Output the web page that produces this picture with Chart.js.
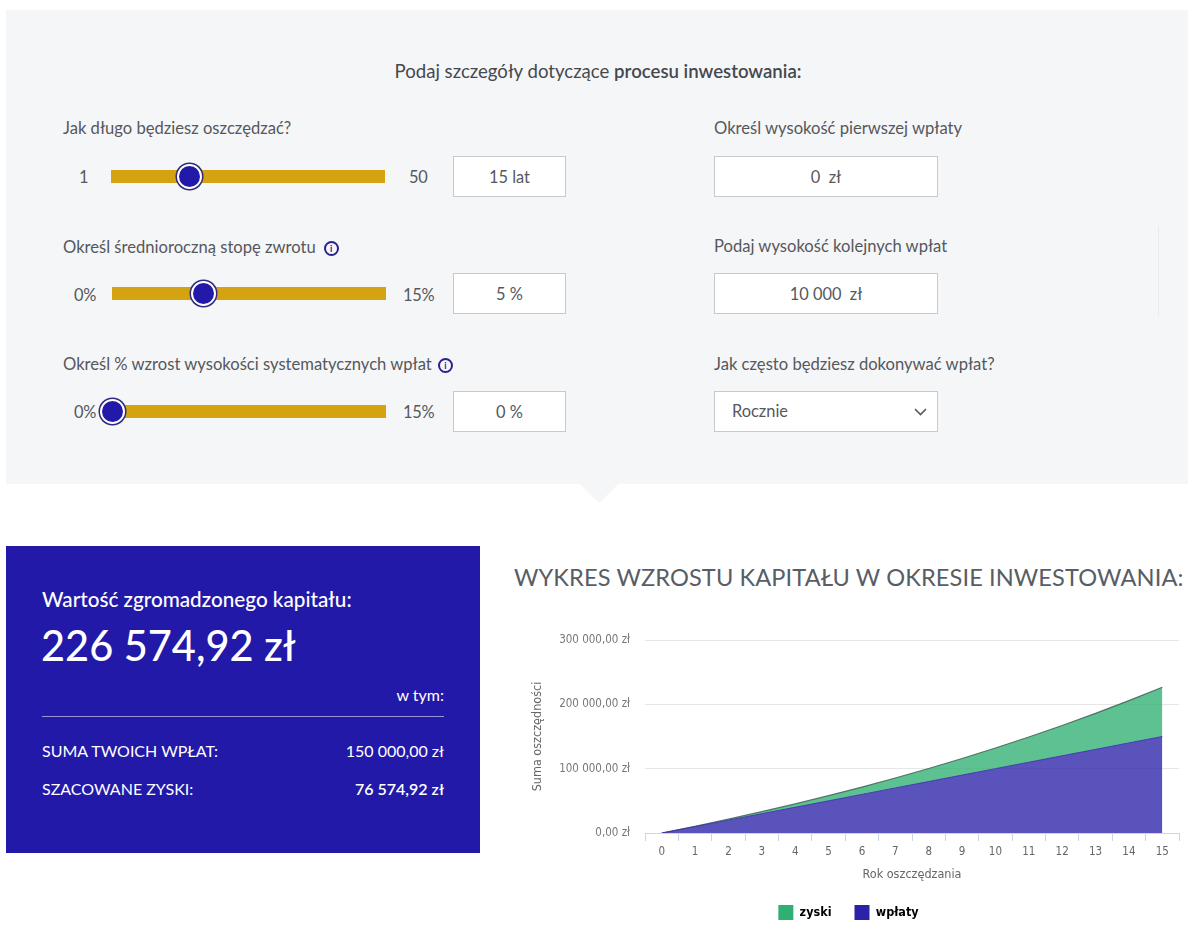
<!DOCTYPE html>
<html lang="pl">
<head>
<meta charset="utf-8">
<title>Kalkulator inwestycyjny</title>
<script src="https://cdn.jsdelivr.net/npm/chart.js@4.4.1/dist/chart.umd.min.js"></script>
<style>
  html, body { margin: 0; padding: 0; background: #fff; }
  body { width: 1200px; height: 937px; position: relative; overflow: hidden; font-family: Lato, "Open Sans", sans-serif; color: #4a4d52; }
  .abs { position: absolute; }
  .panel { left: 6px; top: 10px; width: 1182px; height: 474px; background: #f5f6f8; }
  .notch { left: 580px; top: 484px; width: 0; height: 0; border-left: 19px solid transparent; border-right: 19px solid transparent; border-top: 19px solid #f5f6f8; }
  .heading { left: 0; width: 1196px; top: 60px; text-align: center; font-size: 18.6px; color: #45484d; }
  .heading b { font-weight: 600; }
  .label { font-size: 16.6px; color: #55585d; white-space: nowrap; }
  .num { font-size: 16.4px; color: #55585d; letter-spacing: -0.3px; }
  .track { height: 13px; background: #d5a212; }
  .knob { width: 21px; height: 21px; border-radius: 50%; background: #2219a8; border: 2px solid #fff; box-shadow: 0 0 0 1.5px #2f2b7e; }
  .box { background: #fff; border: 1px solid #c9c9cb; box-sizing: border-box; font-size: 16.4px; color: #55585d; text-align: center; line-height: 39px; }
  .info { display: inline-block; vertical-align: 1px; margin-left: 8px; width: 11px; height: 11px; border: 2px solid #2a2290; border-radius: 50%; font-size: 9px; font-weight: 700; color: #2a2290; text-align: center; line-height: 11px; }
  .result { left: 6px; top: 546px; width: 474px; height: 307px; background: #2219a8; color: #fff; }
  .result div { position: absolute; white-space: nowrap; }
  .title { left: 514px; top: 563px; font-size: 23.6px; color: #585d66; white-space: nowrap; letter-spacing: 0.1px; }
  #wrap { left: 510px; top: 612px; width: 680px; height: 318px; }
</style>
</head>
<body>
<div class="abs panel"></div>
<div class="abs notch"></div>
<div class="abs heading">Podaj szczegóły dotyczące <b>procesu inwestowania:</b></div>

<!-- lewa kolumna -->
<div class="abs label" style="left:63px;top:118px">Jak długo będziesz oszczędzać?</div>
<div class="abs num" style="left:79px;top:167px">1</div>
<div class="abs track" style="left:111px;top:170px;width:274px"></div>
<div class="abs knob" style="left:177px;top:164px"></div>
<div class="abs num" style="left:409px;top:167px">50</div>
<div class="abs box" style="left:453px;top:156px;width:113px;height:41px">15 lat</div>

<div class="abs label" style="left:63px;top:237px">Określ średnioroczną stopę zwrotu<span class="info">i</span></div>
<div class="abs num" style="left:74px;top:285px">0%</div>
<div class="abs track" style="left:112px;top:287px;width:274px"></div>
<div class="abs knob" style="left:191px;top:281px"></div>
<div class="abs num" style="left:403px;top:285px">15%</div>
<div class="abs box" style="left:453px;top:273px;width:113px;height:41px">5 %</div>

<div class="abs label" style="left:63px;top:354px">Określ % wzrost wysokości systematycznych wpłat<span class="info" style="margin-left:6px">i</span></div>
<div class="abs num" style="left:74px;top:402px">0%</div>
<div class="abs track" style="left:112px;top:405px;width:274px"></div>
<div class="abs knob" style="left:100px;top:399px"></div>
<div class="abs num" style="left:403px;top:402px">15%</div>
<div class="abs box" style="left:453px;top:391px;width:113px;height:41px">0 %</div>

<!-- prawa kolumna -->
<div class="abs label" style="left:714px;top:118px">Określ wysokość pierwszej wpłaty</div>
<div class="abs box" style="left:714px;top:156px;width:224px;height:41px">0&nbsp; zł</div>
<div class="abs label" style="left:714px;top:236px">Podaj wysokość kolejnych wpłat</div>
<div class="abs box" style="left:714px;top:273px;width:224px;height:41px">10 000&nbsp; zł</div>
<div class="abs label" style="left:714px;top:354px">Jak często będziesz dokonywać wpłat?</div>
<div class="abs box" style="left:714px;top:391px;width:224px;height:41px;text-align:left;padding-left:17px;line-height:37px">Rocznie
  <svg style="position:absolute;left:199px;top:16px" width="13" height="8" viewBox="0 0 13 8"><path d="M1 1 L6.5 6.5 L12 1" fill="none" stroke="#55585d" stroke-width="1.6"/></svg>
</div>
<div class="abs" style="left:1158px;top:226px;width:1px;height:90px;background:#e9eaed"></div>

<!-- wynik -->
<div class="abs result">
  <div style="left:36px;top:41px;font-size:20.7px;font-weight:500">Wartość zgromadzonego kapitału:</div>
  <div style="left:35px;top:74px;font-size:41.5px;font-weight:500">226 574,92 zł</div>
  <div style="right:36px;top:139px;font-size:16px">w tym:</div>
  <div style="left:36px;top:170px;width:402px;height:1px;background:#9995d8"></div>
  <div style="left:36px;top:195px;font-size:16px">SUMA TWOICH WPŁAT:</div>
  <div style="right:36px;top:195px;font-size:16px">150 000,00 zł</div>
  <div style="left:36px;top:233px;font-size:16px">SZACOWANE ZYSKI:</div>
  <div style="right:36px;top:233px;font-size:16px;font-weight:600">76 574,92 zł</div>
</div>

<div class="abs title">WYKRES WZROSTU KAPITAŁU W OKRESIE INWESTOWANIA:</div>
<div class="abs" id="wrap"><canvas id="myChart"></canvas></div>

<script>
// lata 0..15
const years = ["0", "1", "2", "3", "4", "5", "6", "7", "8", "9", "10", "11", "12", "13", "14", "15"];
// suma wpłat na koniec roku
const wplaty = [0, 10000, 20000, 30000, 40000, 50000, 60000, 70000, 80000, 90000, 100000, 110000, 120000, 130000, 140000, 150000];
// zyski ponad wpłaty (warstwa na górze)
const zyski = [0, 500, 1525, 3101, 5256, 8019, 11420, 15491, 20266, 25779, 32068, 39171, 47130, 55986, 65786, 76575];
const yTicks = [0, 100000, 200000, 300000];

const axisFont = { family: "'Liberation Sans Narrow', 'DejaVu Sans Condensed', 'Roboto Condensed', Roboto, sans-serif", size: 11.5 };

const fmtZl = (v) => {
  const s = Math.round(v).toString().replace(/\B(?=(\d{3})+(?!\d))/g, " ");
  return s + ",00 zł";
};

const canvas = document.querySelector("canvas#myChart");
const chart = new Chart(canvas, {
  type: "line",
  data: {
    labels: years,
    datasets: [
      {
        label: "wpłaty",
        data: wplaty,
        backgroundColor: "rgba(43, 34, 168, 0.78)",
        borderColor: "rgba(60, 52, 170, 0.9)",
        borderWidth: 1,
        fill: "origin",
        pointRadius: 0,
        tension: 0,
      },
      {
        label: "zyski",
        data: zyski,
        backgroundColor: "rgba(47, 176, 114, 0.78)",
        borderColor: "rgba(70, 105, 90, 0.9)",
        borderWidth: 1.2,
        fill: "-1",
        pointRadius: 0,
        tension: 0,
      },
    ],
  },
  options: {
    responsive: true,
    maintainAspectRatio: false,
    animation: false,
    layout: { padding: { top: 28, right: 11, bottom: 0, left: 8 } },
    plugins: {
      tooltip: { enabled: false },
      legend: {
        position: "bottom",
        reverse: true,
        labels: {
          boxWidth: 15,
          boxHeight: 15,
          padding: 23,
          color: "#333",
          font: { family: "'Liberation Sans Narrow', 'DejaVu Sans Condensed', Roboto, sans-serif", size: 12.5, weight: "bold" },
          generateLabels: (c) => {
            const solid = ["#2b22a8", "#2fb072"];
            return c.data.datasets.map((ds, i) => ({
              text: ds.label,
              fillStyle: solid[i],
              strokeStyle: solid[i],
              lineWidth: 0,
              hidden: false,
              datasetIndex: i,
            }));
          },
        },
      },
    },
    scales: {
      x: {
        type: "category",
        offset: true,
        grid: { offset: true, drawOnChartArea: false, drawTicks: true, tickLength: 8, color: "#ccd6eb" },
        border: { display: true, color: "#ccd6eb" },
        ticks: { color: "#666", font: axisFont, padding: 4, maxRotation: 0 },
        title: { display: true, text: "Rok oszczędzania", color: "#666", font: { ...axisFont, size: 12.5 }, padding: { top: 0, bottom: 0 } },
        afterFit: (scale) => { scale.height = 49; },
      },
      y: {
        stacked: true,
        min: 0,
        max: 300000,
        afterBuildTicks: (scale) => { scale.ticks = yTicks.map((v) => ({ value: v })); },
        grid: { color: "#e6e6e6", drawTicks: false },
        border: { display: false },
        ticks: { color: "#777", font: axisFont, padding: 15, callback: (v) => fmtZl(v) },
        title: { display: true, text: "Suma oszczędności", color: "#666", font: { ...axisFont, size: 12.5 }, padding: { top: 12, bottom: 0 } },
        afterFit: (scale) => { scale.width = 127; },
      },
    },
  },
});
</script>
</body>
</html>
